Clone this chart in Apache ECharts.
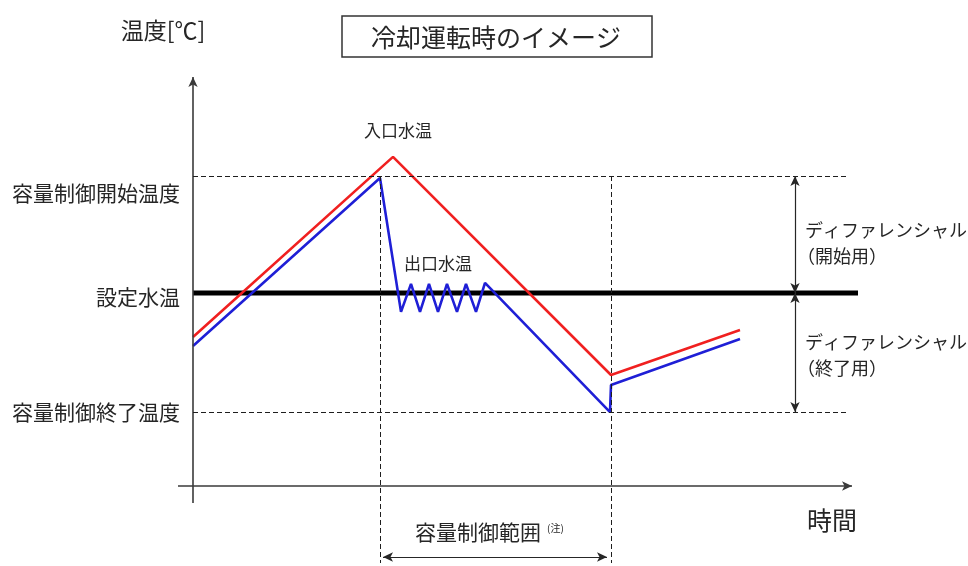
<!DOCTYPE html>
<html>
<head>
<meta charset="utf-8">
<script src="https://cdn.jsdelivr.net/npm/echarts@6/dist/echarts.min.js"></script>
<style>html,body{margin:0;padding:0;background:#fff}#chart{width:968px;height:566px}</style>
</head>
<body>
<div id="chart"></div>
<script>
"use strict";

// inlet water temperature (red)
var inletTime = [0, 40, 83.6, 109.4];
var inletTemp = [7.72, 17.05, 5.75, 8.08];

// outlet water temperature (blue)
var outletTime = [0, 37.4, 41.6, 43.6, 45.4, 47.2, 49.0, 50.8, 52.8, 54.6, 56.6, 58.4, 83.4, 83.6, 109.4];
var outletTemp = [7.25, 15.96, 9.02, 10.47, 9.02, 10.47, 9.02, 10.47, 9.02, 10.47, 9.02, 10.52, 3.83, 5.23, 7.62];

// reference levels
var levelNames = ['容量制御開始温度', '設定水温', '容量制御終了温度'];
var levelTemps = [16.06, 10, 3.83];

// capacity control range (time)
var controlRange = [37.4, 83.6];

var FONT = '"Noto Sans CJK JP", "Noto Sans CJK SC", sans-serif';
var INK = '#262626';

function pairs(xs, ys) {
  return xs.map(function (x, i) { return [x, ys[i]]; });
}

function seg(a, b, s0, s1, style) {
  return [
    {coord: a, symbol: s0, lineStyle: style},
    {coord: b, symbol: s1}
  ];
}

var dash = {color: '#1e1e1e', width: 1, type: [5, 3]};
var thin = {color: INK, width: 1.2, type: 'solid'};
var axisStyle = {color: '#3a3a3a', width: 1.6, type: 'solid'};

var guideLines = [
  // axes
  seg([-3, 0], [131.8, 0], 'none', 'arrow', axisStyle),
  seg([0, -0.88], [0, 21.19], 'none', 'arrow', axisStyle),
  // start / end levels
  seg([0, levelTemps[0]], [131, levelTemps[0]], 'none', 'none', dash),
  seg([0, levelTemps[2]], [131, levelTemps[2]], 'none', 'none', dash),
  // control range verticals
  seg([controlRange[0], levelTemps[0]], [controlRange[0], -3.99], 'none', 'none', dash),
  seg([controlRange[1], levelTemps[0]], [controlRange[1], -3.99], 'none', 'none', dash),
  // differential arrows
  seg([120.4, levelTemps[0]], [120.4, levelTemps[1]], 'arrow', 'arrow', thin),
  seg([120.4, levelTemps[1]], [120.4, levelTemps[2]], 'arrow', 'arrow', thin),
  // control range arrow
  seg([controlRange[0] + 0.6, -3.68], [controlRange[1] - 0.8, -3.68], 'arrow', 'arrow', thin)
];

function txt(x, y, text, size, align) {
  return {
    type: 'text', x: x, y: y, silent: true,
    style: {
      text: text, fill: INK, font: size + 'px ' + FONT,
      align: align || 'left', verticalAlign: 'middle'
    }
  };
}

var chart = echarts.init(document.getElementById('chart'));

var option = {
  backgroundColor: '#ffffff',
  animation: false,
  grid: {left: 160, right: 98, top: 60, bottom: 0},
  xAxis: {type: 'value', min: -6.6, max: 135.4, show: false},
  yAxis: {type: 'value', min: -4.145, max: 22.07, show: false},
  series: [
    {
      name: 'guides',
      type: 'line',
      data: [],
      silent: true,
      markLine: {
        silent: true,
        symbolSize: [7, 10],
        label: {show: false},
        emphasis: {disabled: true},
        data: guideLines
      }
    },
    {
      name: '設定水温',
      type: 'line',
      data: [[0, levelTemps[1]], [133, levelTemps[1]]],
      symbol: 'none',
      lineStyle: {color: '#000', width: 5},
      silent: true
    },
    {
      name: '入口水温',
      type: 'line',
      data: pairs(inletTime, inletTemp),
      symbol: 'none',
      lineStyle: {color: '#f02020', width: 2.6},
      silent: true
    },
    {
      name: '出口水温',
      type: 'line',
      data: pairs(outletTime, outletTemp),
      symbol: 'none',
      lineStyle: {color: '#1f1fd6', width: 2.6},
      silent: true
    }
  ],
  graphic: [
    txt(163, 30, '温度[℃]', 23, 'center'),
    {
      type: 'rect', silent: true,
      shape: {x: 342, y: 16, width: 310, height: 41},
      style: {fill: '#fff', stroke: '#333', lineWidth: 1.5}
    },
    txt(496, 37, '冷却運転時のイメージ', 25, 'center'),
    txt(180, 193, levelNames[0], 21, 'right'),
    txt(180, 297, levelNames[1], 21, 'right'),
    txt(180, 412, levelNames[2], 21, 'right'),
    txt(364, 131, '入口水温', 17),
    txt(404, 264, '出口水温', 17),
    txt(805, 230, 'ディファレンシャル', 18),
    txt(797, 256, '（開始用）', 18),
    txt(805, 342, 'ディファレンシャル', 18),
    txt(797, 368, '（終了用）', 18),
    txt(832, 520, '時間', 25, 'center'),
    txt(415, 532, '容量制御範囲', 21),
    txt(547, 528, '(注)', 10)
  ]
};

chart.setOption(option);
</script>
</body>
</html>
